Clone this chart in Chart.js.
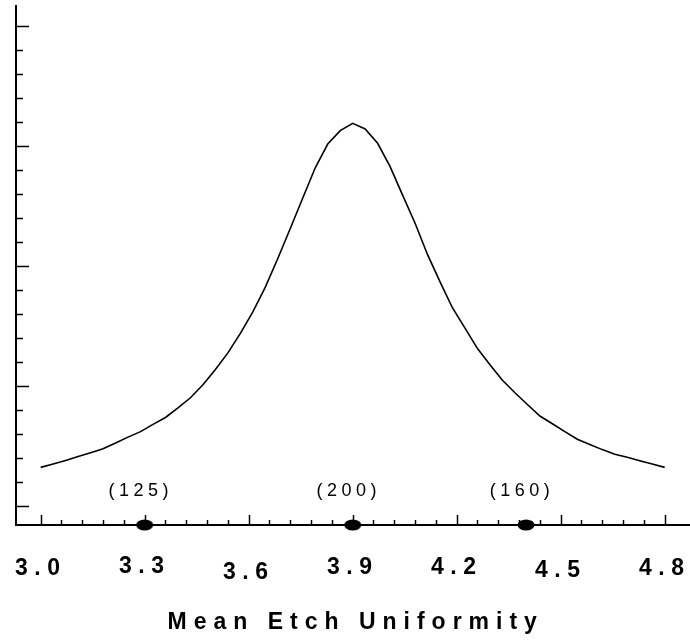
<!DOCTYPE html>
<html>
<head>
<meta charset="utf-8">
<script src="https://cdn.jsdelivr.net/npm/chart.js@4.4.0/dist/chart.umd.min.js"></script>
<style>
  html, body { margin: 0; padding: 0; background: #fff; }
  #wrap { width: 690px; height: 641px; }
</style>
</head>
<body>
<div id="wrap"><canvas id="chart"></canvas></div>
<script>
// ---------------- DATA ----------------
const curveX = [
  3.000, 3.036, 3.072, 3.108, 3.144, 3.180, 3.216, 3.252, 3.288, 3.324,
  3.360, 3.396, 3.432, 3.468, 3.504, 3.540, 3.576, 3.612, 3.648, 3.684,
  3.720, 3.756, 3.792, 3.828, 3.864, 3.900, 3.936, 3.972, 4.008, 4.044,
  4.080, 4.116, 4.152, 4.188, 4.224, 4.260, 4.296, 4.332, 4.368, 4.404,
  4.440, 4.476, 4.512, 4.548, 4.584, 4.620, 4.656, 4.692, 4.728, 4.764,
  4.800
];
const curveY = [
  1.60, 1.74, 1.89, 2.05, 2.21, 2.38, 2.62, 2.86, 3.09, 3.39,
  3.68, 4.08, 4.50, 5.04, 5.68, 6.37, 7.18, 8.08, 9.11, 10.30,
  11.55, 12.82, 14.08, 15.07, 15.63, 15.93, 15.70, 15.10, 14.13, 12.94,
  11.77, 10.46, 9.33, 8.24, 7.40, 6.55, 5.88, 5.23, 4.71, 4.22,
  3.74, 3.42, 3.09, 2.77, 2.55, 2.34, 2.15, 2.02, 1.88, 1.74,
  1.60
];
const xTickValues = [3.0, 3.3, 3.6, 3.9, 4.2, 4.5, 4.8];
const xTickLabels = ["3.0", "3.3", "3.6", "3.9", "4.2", "4.5", "4.8"];
const markerX = [3.3, 3.9, 4.4];
const markerLabels = ["(125)", "(200)", "(160)"];
const axisTitle = "Mean Etch Uniformity";

// ---------------- MARKER ----------------
const dot = document.createElement("canvas");
dot.width = 18; dot.height = 12;
const dctx = dot.getContext("2d");
dctx.fillStyle = "#000";
dctx.beginPath();
dctx.ellipse(9, 6, 8.5, 5.5, 0, 0, Math.PI * 2);
dctx.fill();

// ---------------- DECOR ----------------
const labelNudge = [0, -2, 3.5, -1, -1.5, 1.5, 0];

const axisDecor = {
  id: "axisDecor",
  afterDraw(chart) {
    const { ctx, scales: { x, y } } = chart;
    const x0 = chart.chartArea.left;
    const yb = chart.chartArea.bottom;
    ctx.save();
    ctx.strokeStyle = "#000";
    ctx.lineWidth = 1.5;

    // y ticks (inside)
    for (let k = 0; k <= 20; k++) {
      const py = Math.round(y.getPixelForValue(k)) + 0.5;
      const len = k % 5 === 0 ? 13 : 7;
      ctx.beginPath();
      ctx.moveTo(x0, py);
      ctx.lineTo(x0 + len, py);
      ctx.stroke();
    }
    // x ticks (inside)
    for (let k = 0; k <= 30; k++) {
      const px = Math.round(x.getPixelForValue(3.0 + k * 0.06)) + 0.5;
      const len = k % 5 === 0 ? 10 : 5;
      ctx.beginPath();
      ctx.moveTo(px, yb);
      ctx.lineTo(px, yb - len);
      ctx.stroke();
    }

    ctx.fillStyle = "#000";
    ctx.textBaseline = "middle";
    ctx.textAlign = "center";

    // tick labels
    ctx.font = "bold 23px Arial, 'Liberation Sans', sans-serif";
    ctx.letterSpacing = "6.5px";
    xTickValues.forEach((v, i) => {
      ctx.fillText(xTickLabels[i], x.getPixelForValue(v), 569 + labelNudge[i]);
    });

    // axis title
    ctx.letterSpacing = "7px";
    ctx.fillText(axisTitle, x.getPixelForValue(3.9) + 3, 623);

    // marker labels
    ctx.font = "18px Arial, 'Liberation Sans', sans-serif";
    ctx.letterSpacing = "4.5px";
    markerX.forEach((v, i) => {
      ctx.fillText(markerLabels[i], x.getPixelForValue(v) - 4, 491);
    });
    ctx.restore();
  }
};

// ---------------- CHART ----------------
const chartCtx = document.getElementById("chart").getContext("2d");
new Chart(chartCtx, {
  type: "scatter",
  data: {
    datasets: [
      {
        data: curveX.map((v, i) => ({ x: v, y: curveY[i] })),
        showLine: true,
        borderColor: "#000",
        borderWidth: 1.6,
        pointRadius: 0,
        tension: 0,
        fill: false
      },
      {
        data: markerX.map(v => ({ x: v, y: -0.8 })),
        pointStyle: dot,
        pointRadius: 9,
        clip: false
      }
    ]
  },
  plugins: [axisDecor],
  options: {
    responsive: true,
    maintainAspectRatio: false,
    animation: false,
    layout: { autoPadding: false, padding: { left: 16, top: 6, right: 0, bottom: 116 } },
    plugins: {
      legend: { display: false },
      tooltip: { enabled: false },
      title: { display: false }
    },
    scales: {
      x: {
        type: "linear",
        min: 2.9288,
        max: 4.873,
        ticks: { display: false },
        grid: { display: false, drawTicks: false },
        border: { display: true, color: "#000", width: 2 }
      },
      y: {
        type: "linear",
        min: -0.8,
        max: 20.82,
        ticks: { display: false },
        grid: { display: false, drawTicks: false },
        border: { display: true, color: "#000", width: 2 }
      }
    }
  }
});
</script>
</body>
</html>
